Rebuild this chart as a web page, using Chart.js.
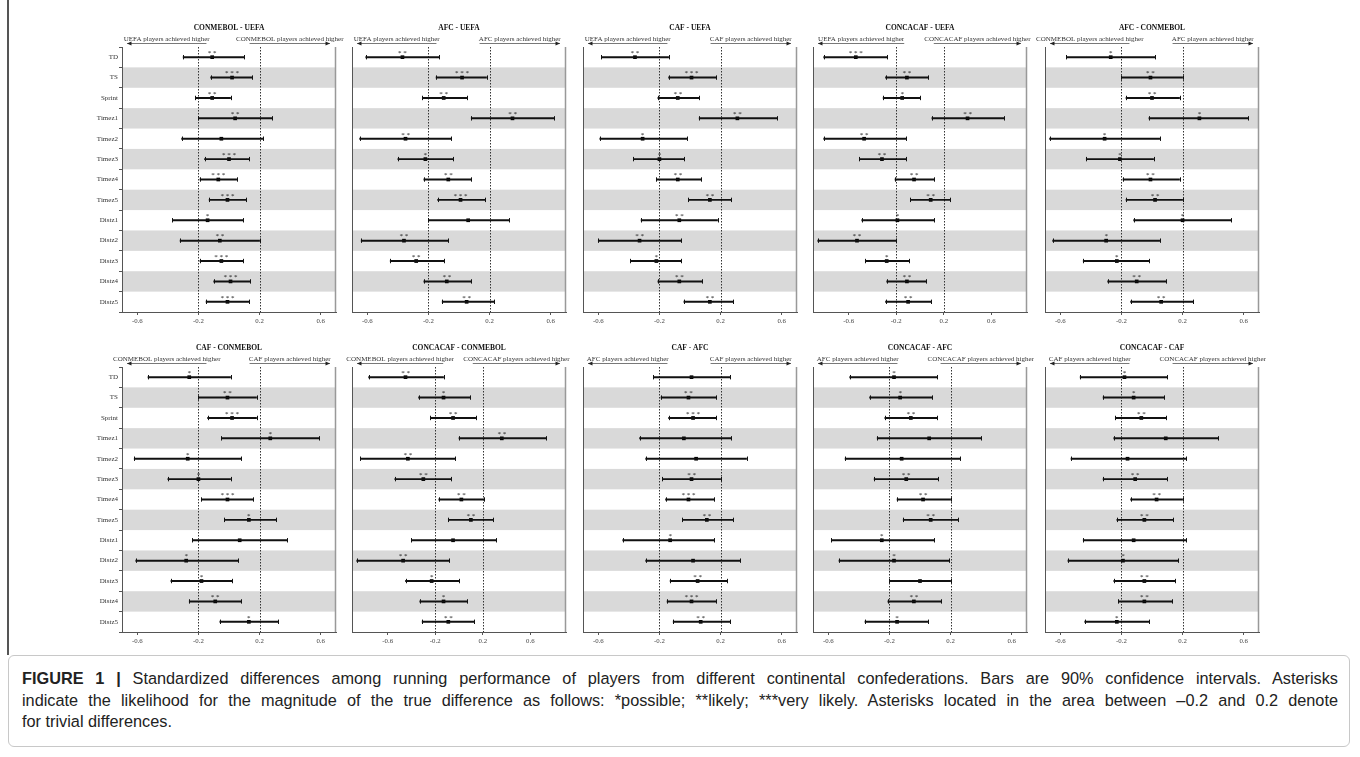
<!DOCTYPE html>
<html>
<head>
<meta charset="utf-8">
<script src="https://cdn.jsdelivr.net/npm/chart.js@4.4.1/dist/chart.umd.min.js"></script>
<style>
  body { margin: 0; background: #fff; width: 1360px; height: 757px; position: relative; overflow: hidden; }
  canvas { position: absolute; }
  #frameLine { position: absolute; left: 7px; top: 0; width: 1.5px; height: 655px; background: #555; }
  #caption { position: absolute; left: 8px; top: 655px; width: 1342px; height: 92px; border: 1px solid #c8c8c8; border-radius: 6px; box-sizing: border-box; }
  .capline { position: absolute; left: 22px; width: 1316px; font-family: "Liberation Sans", Arial, sans-serif; font-size: 16.3px; line-height: 20px; color: #222; white-space: nowrap; }
  .just { text-align: justify; text-align-last: justify; white-space: normal; }
</style>
</head>
<body>
<div id="frameLine"></div>
<div id="caption"></div>
<div class="capline just" style="top:668px"><b>FIGURE 1 |</b> Standardized differences among running performance of players from different continental confederations. Bars are 90% confidence intervals. Asterisks</div>
<div class="capline just" style="top:690px">indicate the likelihood for the magnitude of the true difference as follows: *possible; **likely; ***very likely. Asterisks located in the area between –0.2 and 0.2 denote</div>
<div class="capline" style="top:711px">for trivial differences.</div>

<script>
const rowLabels = ["TD", "TS", "Sprint", "Timez1", "Timez2", "Timez3", "Timez4", "Timez5", "Distz1", "Distz2", "Distz3", "Distz4", "Distz5"];
const tickValues = [-0.6, -0.2, 0.2, 0.6];
const trivialBounds = [-0.2, 0.2];

// CONMEBOL - UEFA
const conmebolUefaLo = [-0.30, -0.12, -0.22, -0.20, -0.31, -0.16, -0.19, -0.13, -0.37, -0.32, -0.19, -0.10, -0.15];
const conmebolUefaEst = [-0.11, 0.02, -0.11, 0.04, -0.05, 0.00, -0.07, -0.01, -0.14, -0.06, -0.05, 0.01, -0.01];
const conmebolUefaHi = [0.10, 0.15, 0.01, 0.28, 0.22, 0.13, 0.05, 0.11, 0.09, 0.20, 0.09, 0.14, 0.13];
const conmebolUefaStars = [2, 3, 2, 2, 0, 3, 3, 3, 1, 2, 3, 3, 3];

// AFC - UEFA
const afcUefaLo = [-0.61, -0.15, -0.24, 0.08, -0.65, -0.40, -0.23, -0.14, -0.20, -0.64, -0.45, -0.23, -0.11];
const afcUefaEst = [-0.37, 0.02, -0.10, 0.35, -0.35, -0.22, -0.07, 0.01, 0.06, -0.36, -0.28, -0.08, 0.05];
const afcUefaHi = [-0.13, 0.18, 0.05, 0.62, -0.05, -0.04, 0.08, 0.17, 0.33, -0.07, -0.10, 0.08, 0.23];
const afcUefaStars = [2, 3, 2, 2, 2, 1, 2, 3, 0, 2, 2, 2, 2];

// CAF - UEFA
const cafUefaLo = [-0.58, -0.14, -0.21, 0.06, -0.59, -0.37, -0.22, -0.01, -0.32, -0.60, -0.39, -0.21, -0.04];
const cafUefaEst = [-0.36, 0.01, -0.08, 0.31, -0.31, -0.20, -0.08, 0.13, -0.07, -0.33, -0.22, -0.07, 0.13];
const cafUefaHi = [-0.14, 0.17, 0.06, 0.57, -0.02, -0.04, 0.07, 0.27, 0.18, -0.06, -0.06, 0.08, 0.28];
const cafUefaStars = [2, 3, 2, 2, 1, 1, 2, 2, 2, 2, 1, 2, 2];

// CONCACAF - UEFA
const concacafUefaLo = [-0.81, -0.29, -0.31, 0.10, -0.81, -0.51, -0.21, -0.08, -0.49, -0.86, -0.46, -0.28, -0.29];
const concacafUefaEst = [-0.54, -0.11, -0.15, 0.40, -0.47, -0.32, -0.05, 0.09, -0.19, -0.53, -0.28, -0.11, -0.10];
const concacafUefaHi = [-0.28, 0.07, 0.00, 0.71, -0.12, -0.12, 0.12, 0.25, 0.12, -0.20, -0.09, 0.05, 0.09];
const concacafUefaStars = [3, 2, 1, 2, 2, 2, 2, 2, 1, 2, 1, 2, 2];

// AFC - CONMEBOL
const afcConmebolLo = [-0.56, -0.20, -0.17, -0.02, -0.67, -0.43, -0.19, -0.17, -0.12, -0.65, -0.45, -0.29, -0.14];
const afcConmebolEst = [-0.27, -0.01, 0.00, 0.31, -0.31, -0.21, -0.01, 0.02, 0.20, -0.30, -0.23, -0.10, 0.06];
const afcConmebolHi = [0.02, 0.20, 0.18, 0.63, 0.05, 0.01, 0.18, 0.20, 0.52, 0.05, -0.02, 0.09, 0.27];
const afcConmebolStars = [1, 2, 2, 1, 1, 1, 2, 2, 1, 1, 1, 2, 2];

// CAF - CONMEBOL
const cafConmebolLo = [-0.53, -0.20, -0.14, -0.05, -0.62, -0.40, -0.18, -0.03, -0.24, -0.61, -0.38, -0.26, -0.06];
const cafConmebolEst = [-0.26, -0.01, 0.02, 0.27, -0.27, -0.20, -0.01, 0.13, 0.07, -0.28, -0.18, -0.09, 0.13];
const cafConmebolHi = [0.01, 0.18, 0.18, 0.59, 0.08, 0.01, 0.16, 0.31, 0.38, 0.06, 0.02, 0.08, 0.32];
const cafConmebolStars = [1, 2, 3, 1, 1, 1, 3, 1, 0, 1, 1, 2, 1];

// CONCACAF - CONMEBOL
const concacafConmebolLo = [-0.76, -0.34, -0.24, 0.00, -0.83, -0.54, -0.17, -0.09, -0.40, -0.86, -0.45, -0.33, -0.31];
const concacafConmebolEst = [-0.45, -0.13, -0.05, 0.36, -0.43, -0.30, 0.02, 0.10, -0.05, -0.47, -0.23, -0.13, -0.09];
const concacafConmebolHi = [-0.13, 0.09, 0.14, 0.73, -0.03, -0.07, 0.21, 0.29, 0.31, -0.08, 0.00, 0.07, 0.13];
const concacafConmebolStars = [2, 1, 2, 2, 2, 2, 2, 2, 0, 2, 1, 1, 2];

// CAF - AFC
const cafAfcLo = [-0.24, -0.19, -0.14, -0.33, -0.29, -0.18, -0.16, -0.05, -0.44, -0.29, -0.13, -0.15, -0.11];
const cafAfcEst = [0.01, -0.01, 0.02, -0.04, 0.04, 0.01, -0.01, 0.11, -0.13, 0.02, 0.05, 0.01, 0.07];
const cafAfcHi = [0.26, 0.17, 0.17, 0.27, 0.37, 0.20, 0.16, 0.28, 0.16, 0.33, 0.24, 0.17, 0.26];
const cafAfcStars = [0, 2, 3, 0, 0, 2, 3, 2, 1, 0, 2, 3, 2];

// CONCACAF - AFC
const concacafAfcLo = [-0.46, -0.33, -0.23, -0.28, -0.49, -0.30, -0.15, -0.11, -0.58, -0.53, -0.20, -0.21, -0.36];
const concacafAfcEst = [-0.17, -0.13, -0.06, 0.06, -0.12, -0.09, 0.02, 0.07, -0.25, -0.17, 0.00, -0.04, -0.15];
const concacafAfcHi = [0.11, 0.08, 0.11, 0.40, 0.26, 0.12, 0.20, 0.25, 0.09, 0.19, 0.20, 0.14, 0.05];
const concacafAfcStars = [1, 1, 2, 0, 0, 2, 2, 2, 1, 1, 0, 2, 1];

// CONCACAF - CAF
const concacafCafLo = [-0.47, -0.32, -0.24, -0.25, -0.53, -0.32, -0.14, -0.23, -0.45, -0.55, -0.25, -0.22, -0.44];
const concacafCafEst = [-0.18, -0.12, -0.07, 0.09, -0.16, -0.11, 0.03, -0.05, -0.12, -0.19, -0.05, -0.05, -0.23];
const concacafCafHi = [0.10, 0.08, 0.09, 0.43, 0.22, 0.10, 0.20, 0.14, 0.22, 0.17, 0.15, 0.13, -0.02];
const concacafCafStars = [1, 1, 2, 0, 0, 2, 2, 2, 0, 1, 2, 2, 1];

const panels = [
    { title: "CONMEBOL - UEFA", left: "UEFA", right: "CONMEBOL", lo: conmebolUefaLo, est: conmebolUefaEst, hi: conmebolUefaHi, stars: conmebolUefaStars, lim: 0.7 },
    { title: "AFC - UEFA", left: "UEFA", right: "AFC", lo: afcUefaLo, est: afcUefaEst, hi: afcUefaHi, stars: afcUefaStars, lim: 0.7 },
    { title: "CAF - UEFA", left: "UEFA", right: "CAF", lo: cafUefaLo, est: cafUefaEst, hi: cafUefaHi, stars: cafUefaStars, lim: 0.7 },
    { title: "CONCACAF - UEFA", left: "UEFA", right: "CONCACAF", lo: concacafUefaLo, est: concacafUefaEst, hi: concacafUefaHi, stars: concacafUefaStars, lim: 0.9 },
    { title: "AFC - CONMEBOL", left: "CONMEBOL", right: "AFC", lo: afcConmebolLo, est: afcConmebolEst, hi: afcConmebolHi, stars: afcConmebolStars, lim: 0.7 },
    { title: "CAF - CONMEBOL", left: "CONMEBOL", right: "CAF", lo: cafConmebolLo, est: cafConmebolEst, hi: cafConmebolHi, stars: cafConmebolStars, lim: 0.7 },
    { title: "CONCACAF - CONMEBOL", left: "CONMEBOL", right: "CONCACAF", lo: concacafConmebolLo, est: concacafConmebolEst, hi: concacafConmebolHi, stars: concacafConmebolStars, lim: 0.9 },
    { title: "CAF - AFC", left: "AFC", right: "CAF", lo: cafAfcLo, est: cafAfcEst, hi: cafAfcHi, stars: cafAfcStars, lim: 0.7 },
    { title: "CONCACAF - AFC", left: "AFC", right: "CONCACAF", lo: concacafAfcLo, est: concacafAfcEst, hi: concacafAfcHi, stars: concacafAfcStars, lim: 0.7 },
    { title: "CONCACAF - CAF", left: "CAF", right: "CONCACAF", lo: concacafCafLo, est: concacafCafEst, hi: concacafCafHi, stars: concacafCafStars, lim: 0.7 }
];

// layout of the plot areas on the page
const plotLefts = [122, 352, 583, 813, 1045];
const plotTops = [47, 367];
const plotW = 214, plotH = 265;
const headH = 32, footH = 20, padR = 14, padL = 10;

Chart.defaults.font.family = '"Liberation Serif", "Times New Roman", serif';
Chart.defaults.color = '#333';

function drawArrow(ctx, x1, x2, y, headAtLeft) {
    ctx.beginPath();
    ctx.moveTo(x1, y);
    ctx.lineTo(x2, y);
    ctx.stroke();
    const hx = headAtLeft ? x1 : x2;
    const d = headAtLeft ? 1 : -1;
    ctx.beginPath();
    ctx.moveTo(hx, y);
    ctx.lineTo(hx + d * 4.5, y - 2);
    ctx.lineTo(hx + d * 4.5, y + 2);
    ctx.closePath();
    ctx.fill();
}

function makeDecor(p) {
    return {
        id: 'decor',
        beforeDatasetsDraw(chart) {
            const { ctx, chartArea: a, scales: { x, y } } = chart;
            const step = y.getPixelForValue(1) - y.getPixelForValue(0);
            ctx.save();
            ctx.fillStyle = '#d9d9d9';
            for (let i = 1; i < rowLabels.length; i += 2) {
                const yc = y.getPixelForValue(i);
                ctx.fillRect(a.left, yc - step / 2, a.right - a.left, step);
            }
            ctx.strokeStyle = '#333';
            ctx.lineWidth = 1;
            ctx.setLineDash([1.5, 1.5]);
            trivialBounds.forEach(v => {
                const px = Math.round(x.getPixelForValue(v)) + 0.5;
                ctx.beginPath();
                ctx.moveTo(px, a.top);
                ctx.lineTo(px, a.bottom);
                ctx.stroke();
            });
            ctx.restore();
        },
        afterDatasetsDraw(chart) {
            const { ctx, scales: { x, y } } = chart;
            ctx.save();
            ctx.strokeStyle = '#111';
            ctx.lineWidth = 1;
            ctx.fillStyle = '#111';
            ctx.font = '7px "Liberation Serif", serif';
            ctx.textAlign = 'center';
            ctx.textBaseline = 'alphabetic';
            rowLabels.forEach((lab, i) => {
                const yc = y.getPixelForValue(i);
                [p.lo[i], p.hi[i]].forEach(v => {
                    const px = Math.round(x.getPixelForValue(v)) + 0.5;
                    ctx.beginPath();
                    ctx.moveTo(px, yc - 2.2);
                    ctx.lineTo(px, yc + 2.2);
                    ctx.stroke();
                });
                if (p.stars[i] > 0) {
                    const s = new Array(p.stars[i]).fill('*').join(' ');
                    ctx.fillText(s, x.getPixelForValue(p.est[i]), yc - 2.2);
                }
            });
            ctx.restore();
        },
        afterDraw(chart) {
            const { ctx, chartArea: a, scales: { x } } = chart;
            ctx.save();
            ctx.strokeStyle = '#555';
            ctx.lineWidth = 1;
            ctx.beginPath();
            ctx.moveTo(a.left + 0.5, a.top);
            ctx.lineTo(a.left + 0.5, a.bottom);
            ctx.stroke();
            ctx.strokeStyle = '#999';
            ctx.lineWidth = 1.5;
            ctx.beginPath();
            ctx.moveTo(a.right - 0.5, a.top);
            ctx.lineTo(a.right - 0.5, a.bottom);
            ctx.stroke();

            ctx.fillStyle = '#111';
            ctx.font = 'bold 7.5px "Liberation Serif", serif';
            ctx.textAlign = 'center';
            ctx.textBaseline = 'middle';
            ctx.fillText(p.title, (a.left + a.right) / 2, a.top - 19);

            const ly = a.top - 3.5;
            ctx.strokeStyle = '#555';
            ctx.fillStyle = '#222';
            ctx.lineWidth = 0.8;
            const l1 = a.left + 5, l2 = x.getPixelForValue(-0.2) + 8;
            const r1 = x.getPixelForValue(0.2) - 10, r2 = a.right - 6;
            drawArrow(ctx, l1, l2, ly, true);
            drawArrow(ctx, r1, r2, ly, false);
            ctx.font = '7px "Liberation Serif", serif';
            ctx.fillStyle = '#333';
            ctx.textBaseline = 'alphabetic';
            ctx.fillText(p.left + ' players achieved higher', (l1 + l2) / 2, ly - 2.5);
            ctx.fillText(p.right + ' players achieved higher', (r1 + r2) / 2, ly - 2.5);
            ctx.restore();
        }
    };
}

panels.forEach((p, k) => {
    const col = k % 5, row = Math.floor(k / 5);
    const showLabels = col === 0;
    const yW = showLabels ? 40 : 0;
    const canvas = document.createElement('canvas');
    const w = padL + yW + plotW + padR, h = headH + plotH + footH;
    canvas.width = w;
    canvas.height = h;
    canvas.style.left = (plotLefts[col] - yW - padL) + 'px';
    canvas.style.top = (plotTops[row] - headH) + 'px';
    canvas.style.width = w + 'px';
    canvas.style.height = h + 'px';
    document.body.appendChild(canvas);

    new Chart(canvas.getContext('2d'), {
        type: 'bar',
        data: {
            labels: rowLabels,
            datasets: [
                {
                    label: 'CI',
                    data: p.lo.map((v, i) => [v, p.hi[i]]),
                    backgroundColor: '#111',
                    barThickness: 1.3,
                    borderWidth: 0
                },
                {
                    type: 'line',
                    label: 'Estimate',
                    indexAxis: 'y',
                    data: p.est,
                    showLine: false,
                    pointStyle: 'rect',
                    pointRadius: 2.6,
                    pointBackgroundColor: '#000',
                    pointBorderWidth: 0
                }
            ]
        },
        options: {
            indexAxis: 'y',
            responsive: false,
            animation: false,
            devicePixelRatio: 1,
            layout: { padding: { top: headH, right: padR, left: padL, bottom: 0 } },
            plugins: { legend: { display: false }, tooltip: { enabled: false } },
            scales: {
                x: {
                    type: 'linear',
                    min: -p.lim,
                    max: p.lim,
                    afterBuildTicks: s => { s.ticks = tickValues.map(v => ({ value: v })); },
                    afterFit: s => { s.height = footH; },
                    ticks: { font: { size: 6.8 }, color: '#444', padding: 2, maxRotation: 0, callback: v => v.toFixed(1) },
                    grid: { drawOnChartArea: false, tickLength: 3, color: '#555' },
                    border: { color: '#555' }
                },
                y: {
                    type: 'category',
                    afterFit: s => { s.width = yW; },
                    ticks: { display: showLabels, font: { size: 7 }, color: '#333', padding: 1 },
                    grid: { display: showLabels, drawOnChartArea: false, tickLength: 3, color: '#555' },
                    border: { display: false }
                }
            }
        },
        plugins: [makeDecor(p)]
    });
});
</script>
</body>
</html>
